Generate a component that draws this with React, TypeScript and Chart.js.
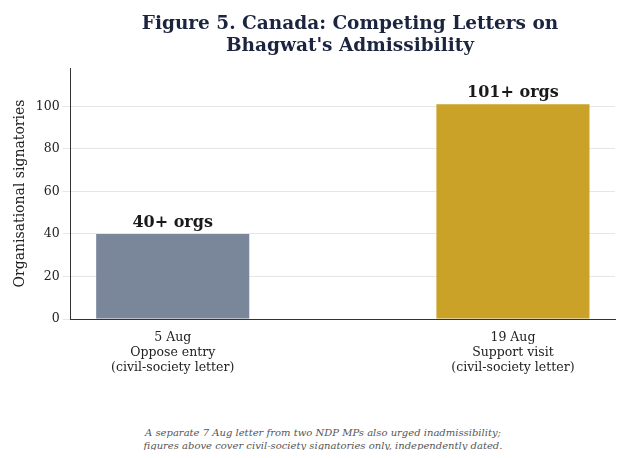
import React, { useEffect, useRef } from "react";
import { Chart, registerables } from "chart.js";
Chart.register(...registerables);

const categories = [["5 Aug", "Oppose entry", "(civil-society letter)"], ["19 Aug", "Support visit", "(civil-society letter)"]];
const values = [40, 101];
const barLabels = ["40+ orgs", "101+ orgs"];
const colors = ["#7a8699", "#c9a227"];
const F = "DejaVu Serif";

export default function App() {
  const ref = useRef<HTMLCanvasElement>(null);
  useEffect(() => {
    const labelPlugin = {
      id: "lbl",
      afterDatasetsDraw(chart: any) {
        const ctx = chart.ctx;
        const meta = chart.getDatasetMeta(0);
        ctx.save();
        ctx.font = `bold 16px "${F}"`;
        ctx.fillStyle = "#1a1a1a";
        ctx.textAlign = "center";
        ctx.textBaseline = "bottom";
        meta.data.forEach((b: any, i: number) => ctx.fillText(barLabels[i], b.x, b.y - 3));
        ctx.restore();
      },
    };
    const c = new Chart(ref.current!, {
      type: "bar",
      data: {
        datasets: [{
          data: values.map((v, i) => ({ x: i, y: v })),
          backgroundColor: colors,
          barPercentage: 0.45,
          categoryPercentage: 1,
        }],
      },
      options: {
        animation: false,
        responsive: false,
        layout: { padding: { left: 0, right: 7, top: 60, bottom: 40 } },
        plugins: { legend: { display: false }, tooltip: { enabled: false } },
        scales: {
          x: {
            type: "linear",
            min: -0.3,
            max: 1.3,
            offset: false,
            grid: { display: false },
            border: { color: "#333" },
            afterBuildTicks: (s: any) => { s.ticks = [{ value: 0 }, { value: 1 }]; },
            ticks: { font: { family: F, size: 12.5 }, color: "#222", callback: (v: any) => categories[v] as any },
          },
          y: {
            min: 0,
            max: 118,
            border: { color: "#333" },
            grid: { color: "#e6e6e6" },
            afterBuildTicks: (s: any) => { s.ticks = [0, 20, 40, 60, 80, 100].map((v) => ({ value: v })); },
            ticks: { font: { family: F, size: 12.5 }, color: "#222" },
            title: { display: true, text: "Organisational signatories", font: { family: F, size: 14 }, color: "#222" },
          },
        },
      },
      plugins: [labelPlugin],
    } as any);
    return () => c.destroy();
  }, []);
  return (
    <div style={{ position: "relative", width: 614, height: 442 }}>
      <canvas ref={ref} width={614} height={410} />
      <div style={{ position: "absolute", left: 0, width: 684, top: 4, textAlign: "center", fontFamily: F, fontWeight: "bold", fontSize: 18.5, color: "#1c2540", lineHeight: "22px" }}>
        Figure 5. Canada: Competing Letters on<br />Bhagwat's Admissibility
      </div>
      <div style={{ position: "absolute", left: 0, width: 630, top: 418, textAlign: "center", fontFamily: F, fontStyle: "italic", fontSize: 10, color: "#555", lineHeight: "13px" }}>
        A separate 7 Aug letter from two NDP MPs also urged inadmissibility;<br />
        figures above cover civil-society signatories only, independently dated.
      </div>
    </div>
  );
}
